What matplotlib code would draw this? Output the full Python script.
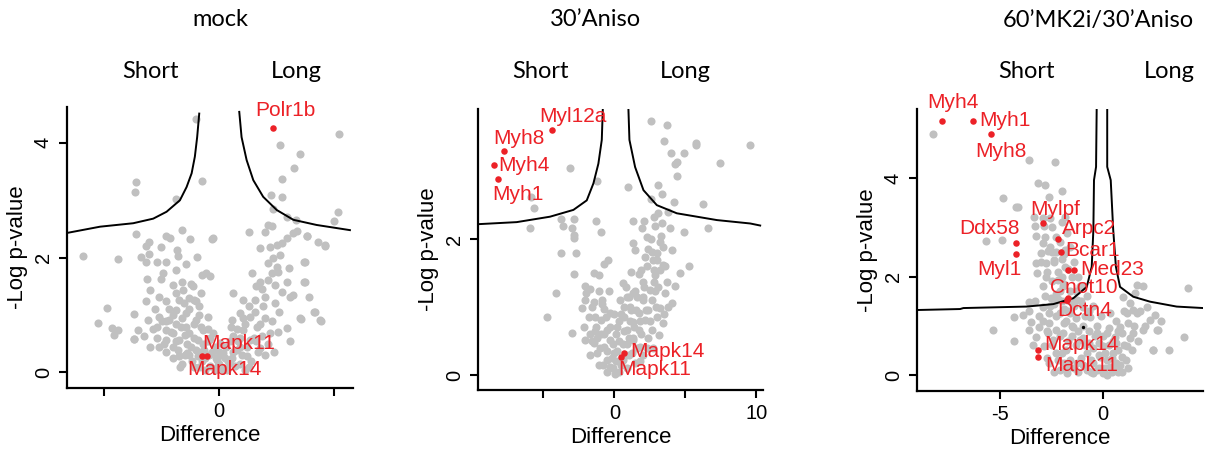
import numpy as np
import matplotlib
matplotlib.use('Agg')
import matplotlib.pyplot as plt

plt.rcParams['font.family'] = ['Liberation Sans', 'DejaVu Sans']

GREY = '#c0c0c0'
RED = '#ec2127'

# ---------------- mock ----------------
mock_pts = [(-0.99, 4.42), (-3.6, 3.31), (-3.68, 3.15), (-0.77, 3.34), (-1.88, 3.02), (-5.94, 2.03),
            (-4.38, 1.98), (-3.61, 2.41), (-3.19, 2.21), (-3.04, 2.28), (-2.32, 2.37), (-2.15, 2.34),
            (-1.64, 2.48), (-1.25, 2.33), (-2.54, 2.18), (-1.84, 2.14), (-3.39, 2.02), (-3.04, 2.06),
            (-3.19, 1.93), (-2.72, 1.93), (-2.32, 1.93), (-1.81, 2.03), (-1.45, 1.89), (-0.97, 2.02),
            (-1.88, 1.79), (-2.44, 1.74), (-3.12, 1.62), (-2.54, 1.62), (-2.03, 1.53), (-1.62, 1.58),
            (-1.23, 1.54), (-3.01, 1.44), (-2.61, 1.32), (-2.32, 1.24), (-3.19, 1.25), (-4.86, 1.12),
            (-3.69, 1.02), (-5.26, 0.86), (-4.67, 0.77), (-4.38, 0.74), (-4.57, 0.66), (-3.69, 0.58),
            (-3.51, 0.74), (-3.25, 0.63), (-3.1, 0.92), (-2.72, 0.8), (-2.64, 0.97), (-2.32, 0.89),
            (-1.88, 1.38), (-1.59, 1.44), (-1.16, 1.5), (-0.8, 1.38), (-0.58, 1.73), (-1.74, 0.28),
            (-2.32, 0.57), (-2.03, 0.69), (-2.03, 0.45), (-1.74, 0.57), (-1.67, 0.8), (-1.45, 1.03),
            (-1.3, 0.69), (-1.23, 0.45), (-1.01, 0.92), (-0.94, 0.57), (-0.87, 1.15), (-0.72, 0.74),
            (-0.65, 0.4), (-0.51, 0.97), (-0.43, 0.57), (-1.88, 1.09), (-2.17, 0.92), (-1.52, 1.21),
            (-1.09, 1.27), (-2.32, 0.74), (-1.38, 0.34), (-0.94, 0.28), (-1.74, 1.27), (-3.7, 0.59),
            (-0.4, 1.68), (-0.33, 2.32), (-0.77, 1.7),
            (5.2, 4.15), (2.64, 3.96), (3.51, 3.8), (3.25, 3.57), (2.74, 3.37), (2.25, 3.1),
            (2.74, 3.06), (2.35, 2.84), (2.93, 2.71), (3.33, 2.66), (5.18, 2.8), (5.0, 2.64),
            (-0.26, 2.34), (1.31, 2.45), (1.99, 2.45), (2.13, 2.57), (2.28, 2.56), (3.36, 2.46),
            (3.83, 2.37), (4.31, 2.28), (4.61, 2.22), (1.77, 2.16), (2.2, 2.19), (2.49, 2.22),
            (2.71, 2.25), (2.96, 2.34), (2.64, 2.05), (2.49, 1.84), (3.05, 1.82), (3.73, 1.93),
            (1.41, 1.74), (2.28, 1.73), (1.77, 1.58), (2.13, 1.61), (2.42, 1.52), (2.93, 1.58),
            (3.73, 1.58), (2.71, 1.41), (3.07, 1.32), (3.91, 1.32), (1.99, 1.32), (0.61, 1.38),
            (1.04, 1.26), (1.55, 1.26), (1.91, 1.15), (2.42, 1.21), (4.16, 1.06), (4.42, 0.89),
            (3.54, 0.93), (2.96, 0.77), (2.57, 0.71), (3.07, 0.54), (0.54, 0.92), (0.9, 1.03),
            (1.33, 0.97), (1.62, 0.8), (1.04, 0.74), (0.61, 0.63), (1.84, 0.63), (1.33, 0.57),
            (2.2, 0.69), (0.9, 0.45), (0.18, 0.34), (-0.11, 0.22), (0.47, 0.16), (1.77, 0.42),
            (1.19, 0.28), (-0.26, 0.69), (0.03, 0.51), (3.22, 2.43), (3.8, 2.37), (4.6, 2.21),
            (3.68, 1.93), (3.7, 1.58), (3.22, 1.35), (3.51, 0.95), (4.12, 1.05), (4.38, 0.92),
            (-2.3, 0.35), (-2.0, 0.25), (-1.8, 0.4), (-1.6, 0.15), (-1.4, 0.5), (-1.2, 0.2),
            (-1.0, 0.4), (-0.9, 0.1), (-0.7, 0.5), (-0.6, 0.25), (-0.4, 0.12), (-0.3, 0.35),
            (-0.2, 0.05), (0.0, 0.15), (0.1, 0.3), (0.2, 0.08), (0.3, 0.45), (0.4, 0.2),
            (0.6, 0.35), (0.7, 0.12), (0.8, 0.55), (1.0, 0.3), (1.2, 0.45), (1.4, 0.2),
            (1.5, 0.6), (1.7, 0.35), (-1.5, 0.65), (-2.1, 0.7), (-0.5, 0.75), (0.5, 0.8),
            (1.1, 0.85), (-1.1, 0.85), (2.1, 0.5), (2.4, 0.35), (-2.6, 0.45),
            (-2.8, 1.1), (-2.5, 0.9), (-2.7, 0.6), (-2.2, 1.1), (-1.9, 0.85), (-1.6, 0.95),
            (-1.3, 1.1), (-1.1, 0.6), (-0.8, 0.8), (-0.5, 0.55), (-0.2, 0.45), (0.0, 0.35),
            (-0.15, 0.25), (0.25, 0.25), (0.45, 0.55), (0.75, 0.75), (1.05, 0.95), (1.3, 1.15),
            (1.55, 1.05), (1.75, 0.85), (2.0, 0.95), (2.3, 0.9), (2.6, 1.05), (1.85, 1.45),
            (1.6, 1.5), (2.55, 1.75), (2.1, 1.9), (2.35, 2.0), (0.9, 0.6), (1.6, 0.55),
            (2.0, 0.3), (1.3, 0.1), (0.9, 0.15), (-1.9, 0.55), (-2.4, 0.5), (-1.5, 0.3),
            (-1.1, 0.1), (-0.75, 0.2), (-0.4, 0.6), (-0.9, 1.0), (-1.45, 0.8), (-2.0, 1.0),
            (-3.0, 0.45), (-2.9, 0.75), (-1.3, 1.3), (-1.0, 1.25),
            (-0.1, 0.1), (-0.45, 0.3), (0.15, 0.05), (0.55, 0.25), (-0.8, 0.35), (-1.3, 0.3),
            (-1.7, 0.1), (0.35, 0.05), (0.75, 0.4), (1.1, 0.05), (-0.6, 0.05)]
mock_curve_l = [(-6.63, 2.43), (-5.18, 2.54), (-3.74, 2.6), (-2.87, 2.68), (-2.29, 2.8), (-1.71, 3.0),
                (-1.42, 3.23), (-1.2, 3.47), (-1.06, 3.76), (-0.96, 4.1), (-0.87, 4.51)]
mock_curve_r = [(0.87, 4.54), (0.97, 4.1), (1.19, 3.7), (1.48, 3.35), (1.91, 3.06), (2.5, 2.83),
                (3.22, 2.66), (4.23, 2.57), (5.68, 2.48)]
mock_genes = ['Polr1b', 'Mapk11', 'Mapk14']
mock_gx = [2.35, -0.55, -0.77]
mock_gy = [4.26, 0.28, 0.28]
mock_lab = [(2.86, 4.56, 'center'), (-0.72, 0.51, 'left'), (-1.37, 0.05, 'left')]

# ---------------- 30'Aniso ----------------
aniso_pts = [(-3.1, 3.05), (-1.22, 2.86), (-5.85, 2.62), (-5.69, 2.46), (-5.97, 2.17), (-3.76, 2.3),
             (-3.62, 2.19), (-2.82, 2.3), (-2.98, 2.17), (-2.87, 2.06), (-2.82, 2.02), (-1.27, 2.26),
             (-0.94, 2.1), (-3.76, 1.8), (-2.68, 1.8), (-0.75, 1.64), (-0.44, 1.7), (-2.82, 1.48),
             (-1.41, 1.5), (-1.1, 1.47), (-4.09, 1.21), (-2.04, 1.31), (-1.97, 1.21), (-1.69, 1.26),
             (-1.1, 1.23), (-0.4, 1.24), (-2.09, 1.11), (-1.45, 1.07), (-0.87, 1.05), (-2.28, 0.99),
             (-0.75, 0.97), (-0.28, 0.91), (-4.75, 0.86), (-1.34, 0.86), (-0.98, 0.81), (-2.98, 0.62),
             (-2.16, 0.71), (-1.69, 0.61), (-2.04, 0.51), (-1.45, 0.47), (-0.98, 0.61), (-0.51, 0.66),
             (-0.75, 0.42), (-0.28, 0.51), (-1.22, 0.32), (-0.51, 0.22), (-0.04, 0.32), (-0.28, 0.12),
             (0.07, 0.02), (-1.69, 0.29), (0.19, 0.71),
             (2.57, 3.74), (3.7, 3.68), (3.51, 3.45), (5.77, 3.42), (5.77, 3.38), (9.53, 3.38),
             (4.0, 3.27), (4.94, 3.27), (7.46, 3.12), (4.4, 3.14), (4.28, 3.11), (4.4, 2.93),
             (0.97, 2.76), (3.04, 2.79), (3.37, 2.66), (2.57, 2.59), (4.17, 2.54), (6.24, 2.52),
             (3.81, 2.4), (3.04, 2.38), (2.76, 2.33), (1.3, 2.27), (2.1, 2.27), (2.83, 2.19),
             (3.34, 2.23), (3.93, 2.16), (6.57, 2.17), (4.94, 2.1), (1.93, 2.17), (2.28, 2.03),
             (1.34, 1.94), (3.22, 1.96), (3.46, 1.89), (4.05, 1.84), (1.46, 1.84), (2.17, 1.74),
             (2.64, 1.81), (2.99, 1.69), (3.46, 1.62), (3.22, 1.54), (5.27, 1.61), (4.64, 1.5),
             (1.16, 1.51), (1.7, 1.49), (2.87, 1.47), (0.64, 1.35), (2.0, 1.37), (2.76, 1.37),
             (3.7, 1.37), (4.28, 1.31), (1.46, 1.23), (2.87, 1.23), (3.58, 1.21), (0.87, 1.15),
             (2.05, 1.1), (2.64, 1.1), (4.05, 1.06), (3.22, 0.98), (1.11, 1.0), (1.7, 0.91),
             (2.4, 0.96), (0.68, 0.86), (1.34, 0.78), (2.17, 0.81), (2.99, 0.86), (3.46, 0.76),
             (0.87, 0.66), (1.7, 0.66), (2.64, 0.66), (2.4, 0.54), (1.34, 0.51), (3.11, 0.59),
             (0.87, 0.46), (1.81, 0.42), (1.22, 0.32), (0.64, 0.22), (2.05, 0.29), (1.46, 0.17),
             (0.3, 0.05), (-0.1, 0.1), (0.5, 0.15), (-0.5, 0.05), (0.9, 0.1),
             (-1.8, 0.85), (-1.6, 1.0), (-1.3, 0.7), (-1.0, 0.4), (-0.8, 0.15), (-0.6, 0.85),
             (-0.3, 0.7), (-0.1, 0.45), (0.1, 0.2), (0.3, 0.5), (0.5, 0.9), (0.7, 0.65),
             (1.0, 0.3), (1.1, 0.8), (1.3, 1.2), (1.5, 0.95), (1.6, 0.4), (1.9, 0.6),
             (2.1, 1.3), (2.2, 0.95), (2.5, 1.25), (2.5, 0.8), (2.8, 1.55), (2.9, 1.0),
             (3.0, 1.8), (3.1, 1.3), (3.3, 2.05), (3.6, 1.6), (2.6, 2.0), (1.9, 1.55),
             (0.8, 1.3), (0.4, 1.1), (1.8, 0.2), (2.3, 0.4), (-1.2, 0.55), (-0.9, 1.1),
             (-1.6, 0.5), (0.0, 0.9), (1.3, 0.55), (2.0, 1.15), (3.8, 1.0), (3.5, 0.9), (2.7, 0.4),
             (-0.5, 0.35), (-0.2, 0.25), (0.2, 0.35), (0.6, 0.45), (0.8, 0.3), (1.0, 0.55),
             (1.4, 0.7), (0.1, 0.6), (-0.7, 0.6), (-1.1, 0.15), (-1.4, 0.65), (0.7, 1.0),
             (1.0, 1.15), (1.2, 0.95), (1.6, 1.15), (1.8, 0.8), (2.3, 1.6), (2.4, 1.85),
             (2.7, 1.7), (0.3, 0.8)]
aniso_curve_l = [(-9.6, 2.22), (-6.89, 2.25), (-4.54, 2.33), (-2.89, 2.43), (-1.95, 2.57), (-1.48, 2.82),
                 (-1.13, 3.11), (-0.89, 3.46), (-0.82, 3.9)]
aniso_curve_r = [(0.99, 3.9), (1.06, 3.46), (1.46, 3.06), (2.05, 2.72), (2.99, 2.5), (4.4, 2.38),
                 (7.23, 2.28), (9.58, 2.23), (10.28, 2.2)]
aniso_genes = ['Myl12a', 'Myh8', 'Myh4', 'Myh1', 'Mapk14', 'Mapk11']
aniso_gx = [-4.42, -7.76, -8.51, -8.23, 0.68, 0.45]
aniso_gy = [3.61, 3.29, 3.09, 2.89, 0.33, 0.27]
aniso_lab = [(-5.29, 3.81, 'left'), (-8.54, 3.48, 'left'), (-8.19, 3.09, 'left'),
             (-8.63, 2.66, 'left'), (1.11, 0.34, 'left'), (0.28, 0.08, 'left')]

# ---------------- 60'MK2i/30'Aniso ----------------
mk2_pts = [(-8.25, 4.9), (-3.58, 4.36), (-2.32, 4.32), (-3.14, 3.91), (-2.82, 3.86), (-4.87, 3.59),
           (-4.22, 3.41), (-4.14, 3.41), (-2.61, 3.62), (-3.33, 3.22), (-3.3, 3.02), (-2.9, 3.2),
           (-2.85, 3.02), (-3.25, 2.83), (-5.67, 2.73), (-4.9, 2.74), (-2.93, 2.68), (-3.01, 2.47),
           (-2.69, 2.51), (-3.25, 2.27), (-2.77, 2.28), (-3.22, 2.08), (-2.77, 2.0), (-2.37, 2.34),
           (-2.21, 1.93), (-2.93, 1.8), (-3.58, 1.49), (-2.53, 1.56), (-2.93, 1.39), (-4.33, 1.18),
           (-3.9, 1.22), (-3.5, 1.08), (-3.09, 1.19), (-2.61, 1.25), (-5.32, 0.91), (-3.58, 0.91),
           (-3.09, 0.98), (-2.61, 1.05), (-4.33, 0.7), (-3.25, 0.78), (-2.69, 0.85), (-2.29, 0.91),
           (-2.45, 0.71), (-2.85, 0.58), (-2.29, 0.44), (-2.61, 0.24),
           (-2.01, 3.73), (1.61, 1.83), (4.12, 1.76), (3.9, 0.77), (2.42, 0.51), (2.58, 0.91),
           (2.1, 1.39), (2.26, 1.12), (1.94, 0.91), (1.61, 1.25), (1.29, 1.46), (0.97, 1.59),
           (1.13, 1.25), (1.45, 0.85), (0.81, 0.98), (0.32, 1.25), (0.57, 0.78), (0.16, 0.85),
           (1.13, 0.58), (0.89, 0.37), (0.49, 0.44), (0.0, 0.58), (-0.32, 0.85), (-0.16, 0.37),
           (0.32, 0.17), (-0.48, 0.03), (0.0, 0.03), (-0.8, 0.44), (-1.13, 0.71), (-1.45, 0.98),
           (-1.29, 0.24), (-1.77, 0.03), (-0.64, 1.18), (-0.97, 1.39), (-1.61, 1.25), (-1.93, 0.85),
           (-1.77, 1.52), (-1.85, 2.2), (-1.85, 2.54), (-1.77, 2.88), (-1.85, 3.22), (-1.93, 1.8),
           (-1.13, 1.8), (-1.29, 1.52),
           (-2.4, 2.3), (-2.2, 2.1), (-2.5, 1.9), (-1.9, 1.85), (-2.3, 1.65), (-2.6, 1.4),
           (-2.0, 1.5), (-1.7, 1.3), (-2.3, 1.2), (-1.9, 1.05), (-1.5, 1.0), (-2.1, 0.8),
           (-1.7, 0.7), (-1.3, 0.6), (-2.0, 0.45), (-1.6, 0.3), (-1.0, 0.2), (-0.6, 0.3),
           (-0.3, 0.1), (0.2, 0.3), (0.5, 0.1), (0.8, 0.2), (-0.9, 0.6), (-0.5, 0.55),
           (0.3, 0.6), (-1.0, 1.0), (-0.7, 0.9), (-2.7, 0.9), (-2.9, 1.1), (-2.5, 0.6),
           (-2.2, 0.3), (0.7, 0.5), (1.0, 0.6), (-1.1, 1.5), (-0.7, 1.3), (-1.5, 2.0),
           (-1.3, 1.7), (-2.6, 2.6), (-2.3, 2.8), (-2.6, 3.2), (-1.4, 1.4), (-0.3, 1.0),
           (0.0, 0.8), (1.5, 1.0), (1.8, 1.3), (2.8, 1.1), (3.2, 0.5), (2.5, 1.22),
           (2.66, 0.91), (2.39, 0.51), (1.53, 1.66), (1.9, 1.8), (1.45, 1.32),
           (-2.8, 1.6), (-2.4, 1.45), (-2.1, 1.25), (-1.8, 1.1), (-1.5, 0.8), (-1.2, 0.9),
           (-1.0, 0.75), (-0.7, 0.65), (-0.4, 0.8), (-0.2, 0.4), (0.1, 0.15), (0.4, 0.35),
           (0.6, 0.65), (0.9, 0.85), (1.2, 1.05), (1.0, 1.3), (0.6, 1.1), (-0.1, 1.2),
           (-0.5, 1.4), (-0.8, 1.6), (-1.0, 1.8), (-1.6, 1.7), (-2.1, 1.7), (-2.7, 2.1),
           (-2.0, 2.35), (-2.5, 2.5), (-1.7, 0.15), (-1.2, 0.05), (-0.6, 0.05), (0.2, 0.0),
           (0.7, 0.05), (1.1, 0.3), (1.4, 0.5), (1.7, 0.7), (2.0, 1.0), (-2.7, 0.35),
           (-2.4, 0.05), (-3.4, 0.6), (-3.6, 1.3), (-3.3, 1.5), (-3.0, 2.3), (-2.8, 2.8),
           (-2.5, 3.0), (-2.0, 3.1), (-1.6, 2.6), (-1.4, 2.3), (-1.2, 2.0),
           (-0.2, 0.15), (0.1, 0.45), (0.4, 0.05), (0.6, 0.25), (0.9, 0.05), (1.2, 0.15),
           (1.3, 0.75), (-0.5, 0.25), (-0.8, 0.1), (-1.1, 0.35), (-1.4, 0.15), (-1.8, 0.5),
           (-1.9, 0.25), (-2.1, 0.1), (-0.9, 1.2), (-1.3, 1.15), (-1.6, 1.5), (-1.9, 1.35),
           (-2.2, 1.55), (-2.0, 2.0), (-1.7, 2.15), (-2.3, 2.5), (-2.1, 2.7), (-1.9, 2.45),
           (0.3, 0.95), (0.7, 0.9), (-0.2, 0.65), (0.45, 0.7)]
mk2_curve_l = [(-9.03, 1.32), (-6.93, 1.34), (-6.77, 1.36), (-3.71, 1.39), (-2.42, 1.44), (-1.45, 1.56),
               (-0.8, 1.79), (-0.56, 2.2), (-0.48, 2.95), (-0.45, 3.96), (-0.35, 4.23), (-0.32, 5.4)]
mk2_curve_r = [(0.19, 5.4), (0.19, 4.23), (0.36, 3.96), (0.48, 2.95), (0.61, 2.2), (0.81, 1.79),
               (1.45, 1.59), (2.26, 1.49), (3.55, 1.39), (4.84, 1.36)]
mk2_genes = ['Myh4', 'Myh1', 'Myh8', 'Mylpf', 'Arpc2', 'Bcar1', 'Med23', 'Med23', 'Cnot10', 'Dctn4',
             'Ddx58', 'Myl1', 'Mapk14', 'Mapk11']
mk2_gx = [-7.82, -6.30, -5.43, -2.93, -2.18, -2.05, -1.72, -1.42, -1.72, -1.75, -4.22, -4.22, -3.14, -3.14]
mk2_gy = [5.17, 5.17, 4.90, 3.08, 2.76, 2.49, 2.13, 2.13, 1.56, 1.53, 2.68, 2.45, 0.51, 0.37]
mk2_lab = [(-8.54, 5.53, 'left'), (-6.0, 5.17, 'left'), (-6.21, 4.55, 'left'), (-3.55, 3.37, 'left'),
           (-2.01, 2.97, 'left'), (-1.82, 2.54, 'left'), (-1.13, 2.15, 'left'), None,
           (-2.58, 1.78, 'left'), (-2.21, 1.31, 'left'), (-4.03, 2.97, 'right'), (-3.95, 2.15, 'right'),
           (-2.85, 0.61, 'left'), (-2.82, 0.2, 'left')]
mk2_stray = (-1.0, 0.98)

W, H = 1211, 451
fig = plt.figure(figsize=(W / 100, H / 100), dpi=100)

panels = [
    dict(title='mock', pts=mock_pts, cl=mock_curve_l, cr=mock_curve_r, genes=mock_genes,
         gx=mock_gx, gy=mock_gy, lab=mock_lab, box=(66.7, 352.7, 106.7, 388),
         xlim=(-6.63, 5.8), ylim=(-0.27, 4.63), xt=[-5, 0, 5], xtl=['', '0', ''], yt=[0, 2, 4],
         tx=220, sx=150, lx=296),
    dict(title='30\u2019Aniso', pts=aniso_pts, cl=aniso_curve_l, cr=aniso_curve_r, genes=aniso_genes,
         gx=aniso_gx, gy=aniso_gy, lab=aniso_lab, box=(477.7, 763.3, 109.3, 390),
         xlim=(-9.64, 10.5), ylim=(-0.22, 3.91), xt=[-5, 0, 5, 10], xtl=['', '0', '', '10'], yt=[0, 2],
         tx=595, sx=540, lx=685),
    dict(title='60\u2019MK2i/30\u2019Aniso', pts=mk2_pts, cl=mk2_curve_l, cr=mk2_curve_r, genes=mk2_genes,
         gx=mk2_gx, gy=mk2_gy, lab=mk2_lab, box=(916.7, 1203.3, 109.3, 390.7),
         xlim=(-9.03, 4.84), ylim=(-0.32, 5.4), xt=[-5, 0], xtl=['-5', '0'], yt=[0, 2, 4],
         tx=1098, sx=1026, lx=1169),
]

for i, p in enumerate(panels):
    l, r, t, b = p['box']
    ax = fig.add_axes([l / W, 1 - b / H, (r - l) / W, (b - t) / H])
    pts = np.array(p['pts'])
    ax.scatter(pts[:, 0], pts[:, 1], s=34, color=GREY, linewidths=0, zorder=1)
    for c in (p['cl'], p['cr']):
        c = np.array(c)
        ax.plot(c[:, 0], c[:, 1], color='black', lw=1.4, zorder=2)
    ax.scatter(p['gx'], p['gy'], s=22, color=RED, linewidths=0, zorder=3)
    for g, lab in zip(p['genes'], p['lab']):
        if lab is None:
            continue
        ax.text(lab[0], lab[1], g, color=RED, fontsize=15, ha=lab[2], va='center', zorder=4)
    if i == 2:
        ax.scatter([mk2_stray[0]], [mk2_stray[1]], s=2, color='black', zorder=4)
    ax.set_xlim(p['xlim'])
    ax.set_ylim(p['ylim'])
    ax.set_xticks(p['xt'])
    ax.set_xticklabels(p['xtl'])
    ax.set_yticks(p['yt'])
    ax.set_yticklabels([str(v) for v in p['yt']], rotation=90, va='center')
    ax.tick_params(labelsize=14.5, width=1.5, length=6, pad=4)
    for s in ('top', 'right'):
        ax.spines[s].set_visible(False)
    for s in ('left', 'bottom'):
        ax.spines[s].set_linewidth(1.6)
    ax.set_xlabel('Difference', fontsize=16, labelpad=3)
    ax.set_ylabel('-Log p-value', fontsize=16, labelpad=4)
    fig.text(p['tx'] / W, 1 - 20 / H, p['title'], ha='center', va='center', fontsize=17, family='Lato')
    fig.text(p['sx'] / W, 1 - 72 / H, 'Short', ha='center', va='center', fontsize=17, family='Lato')
    fig.text(p['lx'] / W, 1 - 72 / H, 'Long', ha='center', va='center', fontsize=17, family='Lato')

fig.savefig('out.png', dpi=100)
